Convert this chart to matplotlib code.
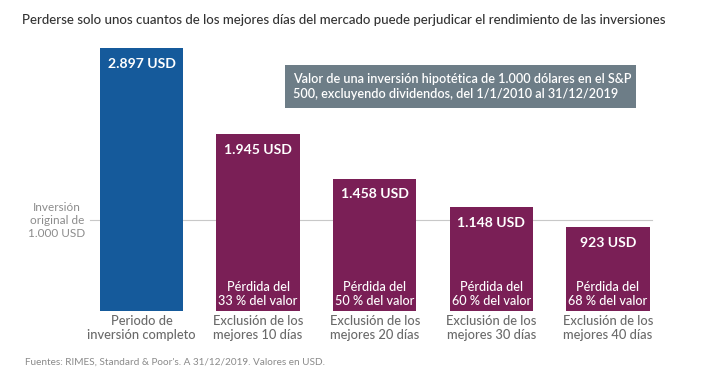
import matplotlib
matplotlib.use("Agg")
import matplotlib.pyplot as plt
from matplotlib.patches import FancyBboxPatch

plt.rcParams['font.family'] = ['Lato', 'DejaVu Sans']

categories = ["Periodo de\ninversión completo", "Exclusión de los\nmejores 10 días",
              "Exclusión de los\nmejores 20 días", "Exclusión de los\nmejores 30 días",
              "Exclusión de los\nmejores 40 días"]
values = [2897, 1945, 1458, 1148, 923]
value_labels = ["2.897 USD", "1.945 USD", "1.458 USD", "1.148 USD", "923 USD"]
loss_labels = [None, "Pérdida del\n33 % del valor", "Pérdida del\n50 % del valor",
               "Pérdida del\n60 % del valor", "Pérdida del\n68 % del valor"]
initial = 1000

title = "Perderse solo unos cuantos de los mejores días del mercado puede perjudicar el rendimiento de las inversiones"
box_text = "Valor de una inversión hipotética de 1.000 dólares en el S&P\n500, excluyendo dividendos, del 1/1/2010 al 31/12/2019"
source = "Fuentes: RIMES, Standard & Poor's. A 31/12/2019. Valores en USD."

blue = "#155a9b"
purple = "#7a1f56"
colors = [blue] + [purple] * 4

W, H = 707, 377
fig = plt.figure(figsize=(W / 100, H / 100), dpi=100)
fig.patch.set_facecolor("white")

ax_left, ax_right = 30, 680
ax_bottom_px, ax_top_px = 311, 40
ax = fig.add_axes([ax_left / W, (H - ax_bottom_px) / H,
                   (ax_right - ax_left) / W, (ax_bottom_px - ax_top_px) / H])
pxu = 116.6
x0 = 141.5
ax.set_xlim(-(x0 - ax_left) / pxu, (ax_right - x0) / pxu)
ypx = 263 / 2897
ax.set_ylim(0, (ax_bottom_px - ax_top_px) / ypx)
ax.axis("off")

xs = list(range(len(values)))
# reference line
ax.plot([-0.44, 4.38], [initial, initial], color="#c8c8c8", lw=0.8, zorder=1)
ax.bar(xs, values, width=0.715, color=colors, zorder=2)

for x, v, lab in zip(xs, values, value_labels):
    ax.annotate(lab, (x, v), xytext=(0, -7), textcoords="offset points",
                ha="center", va="top", color="white", fontsize=10.1,
                fontweight="bold", zorder=3)
for x, lab in zip(xs, loss_labels):
    if lab:
        ax.annotate(lab, (x, 0), xytext=(0, 3), textcoords="offset points",
                    ha="center", va="bottom", color="white", fontsize=9.1,
                    linespacing=1.2, fontweight="medium", zorder=3)
for x, lab in zip(xs, categories):
    ax.annotate(lab, (x, 0), xytext=(0, -3), textcoords="offset points",
                ha="center", va="top", color="#6a6a6a", fontsize=9.3,
                linespacing=1.2, fontweight="medium")

# label of initial investment
ax.annotate("Inversión\noriginal de\n1.000 USD", (-0.48, initial), xytext=(0, 0),
            textcoords="offset points", ha="right", va="center",
            color="#8c8c8c", fontsize=8.5, linespacing=1.2, multialignment="center")

fig.text(22 / W, 1 - 20 / H, title, ha="left", va="center", fontsize=9.5,
         color="#333333", fontweight="medium")

# info box
bx0, by0, bx1, by1 = 285, 65, 636, 108
fig.patches.append(FancyBboxPatch((bx0 / W, 1 - by1 / H), (bx1 - bx0) / W, (by1 - by0) / H,
                                  boxstyle="square,pad=0", transform=fig.transFigure,
                                  facecolor="#6d7d87", edgecolor="none"))
fig.text(293 / W, 1 - 86.5 / H, box_text, ha="left", va="center", fontsize=9.05,
         color="white", linespacing=1.3, fontweight="semibold")

fig.text(25 / W, 1 - 362 / H, source, ha="left", va="center", fontsize=7.2,
         color="#8a8a8a")

fig.savefig("out.png", dpi=100, facecolor="white")
